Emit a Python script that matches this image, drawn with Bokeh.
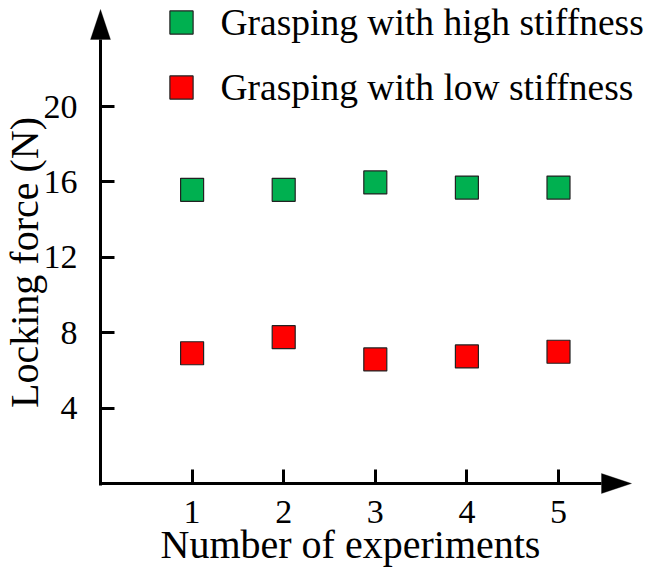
from bokeh.plotting import figure
from bokeh.models import Range1d, FixedTicker, Legend, LegendItem, PolyAnnotation
from bokeh.embed import file_html
from bokeh.resources import INLINE

# ---- data ----
experiments = [1, 2, 3, 4, 5]
high_stiffness = [15.58, 15.58, 15.97, 15.70, 15.70]
low_stiffness = [6.91, 7.76, 6.58, 6.74, 6.99]
x_ticks = [1, 2, 3, 4, 5]
y_ticks = [4, 8, 12, 16, 20]
series_labels = ["Grasping with high stiffness", "Grasping with low stiffness"]
x_title = "Number of experiments"
y_title = "Locking force (N)"

# ---- geometry (pixels) ----
W, H = 654, 567
OX, OY = 100, 483         # origin position inside the canvas (from left, from top)
PX_X = 91.6               # pixels per experiment
PX_Y = 18.85              # pixels per newton
X_TIP = 531 / PX_X        # arrow tips (data units)
Y_TIP = 474 / PX_Y
HEAD_LEN, HEAD_HALF = 30, 10
X_BASE = X_TIP - HEAD_LEN / PX_X
Y_BASE = Y_TIP - HEAD_LEN / PX_Y

FONT = "Liberation Serif"

p = figure(width=W, height=H, output_backend="svg", toolbar_location=None,
           x_range=Range1d(-OX / PX_X, (W - OX) / PX_X),
           y_range=Range1d(-(H - OY) / PX_Y, OY / PX_Y),
           min_border_left=0, min_border_right=0,
           min_border_top=0, min_border_bottom=0)
p.outline_line_color = None
p.grid.visible = False
p.background_fill_color = "white"
p.border_fill_color = "white"

for ax in (p.xaxis[0], p.yaxis[0]):
    ax.fixed_location = 0
    ax.axis_line_color = "black"
    ax.axis_line_width = 3
    ax.major_tick_in = 14
    ax.major_tick_out = 0
    ax.major_tick_line_width = 3
    ax.major_tick_line_color = "black"
    ax.minor_tick_line_color = None
    ax.major_label_text_font = FONT
    ax.major_label_text_font_size = "34px"
    ax.major_label_text_color = "black"
    ax.axis_label_text_font = FONT
    ax.axis_label_text_font_size = "40px"
    ax.axis_label_text_font_style = "normal"
    ax.axis_label_text_color = "black"

p.xaxis[0].ticker = FixedTicker(ticks=x_ticks)
p.yaxis[0].ticker = FixedTicker(ticks=y_ticks)
p.xaxis[0].bounds = (-1.5 / PX_X, X_BASE)
p.yaxis[0].bounds = (-1.5 / PX_Y, Y_BASE)
p.xaxis[0].axis_label = x_title
p.yaxis[0].axis_label = y_title
p.xaxis[0].major_label_standoff = 17
p.yaxis[0].major_label_standoff = 23
p.xaxis[0].axis_label_standoff = -4
p.yaxis[0].axis_label_standoff = -6

# arrow heads
p.add_layout(PolyAnnotation(
    xs=[X_TIP, X_BASE, X_BASE],
    ys=[0, HEAD_HALF / PX_Y, -HEAD_HALF / PX_Y],
    fill_color="black", fill_alpha=1, line_color="black", line_width=1))
p.add_layout(PolyAnnotation(
    xs=[0, HEAD_HALF / PX_X, -HEAD_HALF / PX_X],
    ys=[Y_TIP, Y_BASE, Y_BASE],
    fill_color="black", fill_alpha=1, line_color="black", line_width=1))

r_high = p.scatter(experiments, high_stiffness, marker="square", size=23,
                   fill_color="#00B050", line_color="#222222", line_width=1.2)
r_low = p.scatter(experiments, low_stiffness, marker="square", size=23,
                  fill_color="#FF0000", line_color="#222222", line_width=1.2)

legend = Legend(items=[LegendItem(label=series_labels[0], renderers=[r_high]),
                       LegendItem(label=series_labels[1], renderers=[r_low])],
                location=(151.5, 451), orientation="vertical",
                glyph_width=58, glyph_height=58, spacing=7, padding=0, margin=0,
                border_line_color=None, background_fill_alpha=0,
                label_text_font=FONT, label_text_font_size="37.5px",
                label_text_color="black", label_standoff=11)
p.add_layout(legend)

open("out.html", "w").write(file_html(p, INLINE))
